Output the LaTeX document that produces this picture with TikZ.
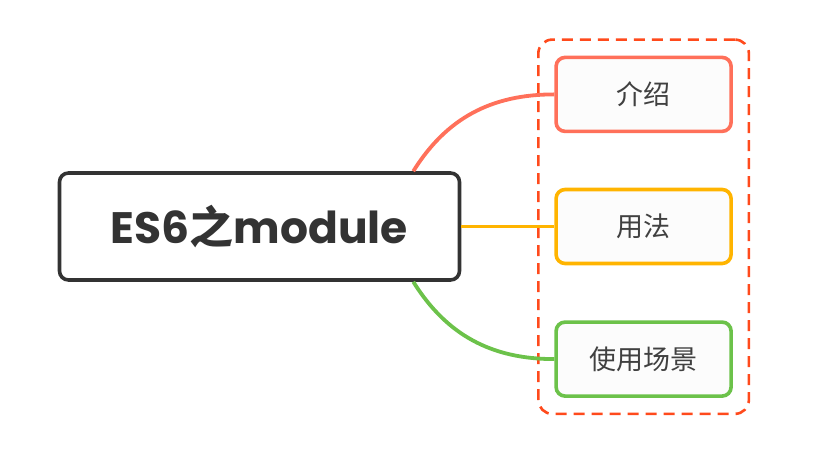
\documentclass[tikz,border=0pt]{standalone}
\usepackage{fontspec}
\newfontfamily\latinfont{Poppins}
\newfontfamily\cjk{Noto Sans CJK SC}
\usetikzlibrary{positioning,fit}

\definecolor{darkline}{HTML}{333333}
\definecolor{leaftext}{HTML}{404040}
\definecolor{introred}{HTML}{FF705A}
\definecolor{usageorange}{HTML}{FFB400}
\definecolor{scenegreen}{HTML}{6CC24A}
\definecolor{groupred}{HTML}{FF4A1C}
\definecolor{leaffill}{HTML}{FCFCFC}

\begin{document}
\begin{tikzpicture}[
        x=1pt, y=1pt,
        root/.style={rectangle, rounded corners=9pt, draw=darkline, line width=3.6pt, fill=white,
            minimum width=400pt, minimum height=107pt, inner sep=0pt, text=darkline},
        leaf/.style={rectangle, rounded corners=9pt, line width=3.6pt, fill=leaffill,
            minimum width=175pt, minimum height=74pt, inner sep=0pt, text=leaftext,
            font=\cjk\fontsize{27}{32}\selectfont},
        group/.style={rectangle, rounded corners=14pt, draw=groupred, line width=2.6pt,
            dash pattern=on 11pt off 7pt, inner sep=16pt},
        branch/.style={line width=3.8pt}
    ]

    \useasboundingbox (0,0) rectangle (831,452);

    \node[root] (main) at (259.5,225.5)
        {\fontsize{44}{50}\selectfont\bfseries\latinfont ES6{\cjk 之}module};

    \node[leaf, draw=usageorange, right=93pt of main] (usage) {用法};
    \node[leaf, draw=introred, above=54.5pt of usage] (intro) {介绍};
    \node[leaf, draw=scenegreen, below=55pt of usage] (scene) {使用场景};

    \node[group, fit=(intro) (usage) (scene)] (box) {};

    \draw[branch, introred] ([xshift=-48pt]main.north east) to[out=58, in=180] (intro.west);
    \draw[branch, usageorange] (main.east) -- (usage.west);
    \draw[branch, scenegreen] ([xshift=-48pt]main.south east) to[out=-58, in=180] (scene.west);

    \end{tikzpicture}
\end{document}
